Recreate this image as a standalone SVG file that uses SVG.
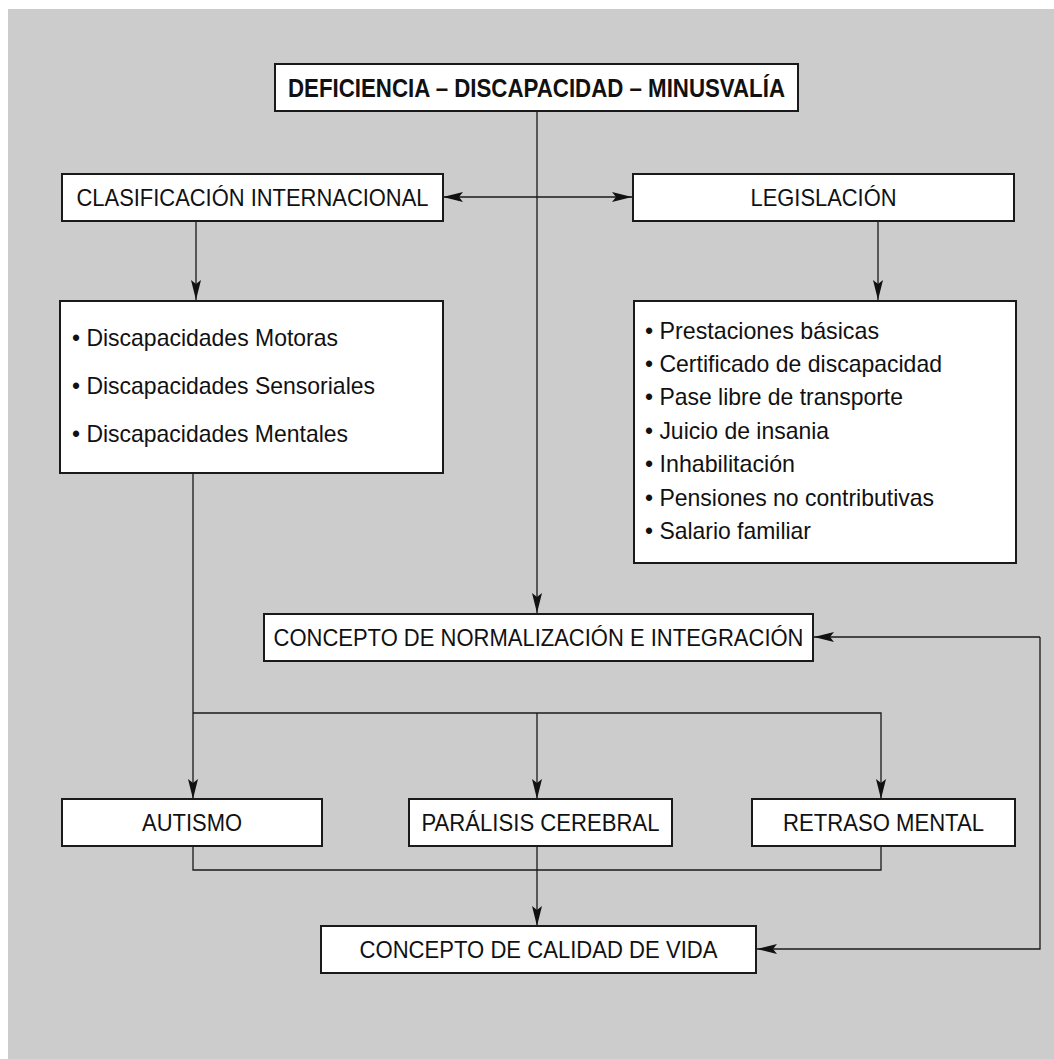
<svg xmlns="http://www.w3.org/2000/svg" width="1054" height="1059" viewBox="0 0 1054 1059">
<style>
.box{fill:#ffffff;stroke:#1a1a1a;stroke-width:2}
.lbl{font-family:"Liberation Sans",Arial,sans-serif;font-size:24px;fill:#111;text-anchor:middle}
.ttl{font-family:"Liberation Sans",Arial,sans-serif;font-size:25px;font-weight:bold;fill:#111;text-anchor:middle}
.itm{font-family:"Liberation Sans",Arial,sans-serif;font-size:24px;fill:#111}
.ln{fill:none;stroke:#1a1a1a;stroke-width:1.3}
</style>
<defs>
<marker id="ah" viewBox="0 0 20 10" refX="20" refY="5" markerWidth="20" markerHeight="10" markerUnits="userSpaceOnUse" orient="auto-start-reverse">
<path d="M0,0 L20,5 L0,10 L4,5 Z" fill="#111"/>
</marker>
</defs>
<rect x="8" y="9" width="1046" height="1050" fill="#cccccc"/>
<g id="connectors">
<path class="ln" d="M537,111 V613" marker-end="url(#ah)"/>
<path class="ln" d="M443,197 H632" marker-start="url(#ah)" marker-end="url(#ah)"/>
<path class="ln" d="M196,221 V300" marker-end="url(#ah)"/>
<path class="ln" d="M878,221 V300" marker-end="url(#ah)"/>
<path class="ln" d="M193,473 V799" marker-end="url(#ah)"/>
<path class="ln" d="M193,713 H881 V799" marker-end="url(#ah)"/>
<path class="ln" d="M537,713 V799" marker-end="url(#ah)"/>
<path class="ln" d="M193,846 V870 H881 V846"/>
<path class="ln" d="M537,846 V926" marker-end="url(#ah)"/>
<path class="ln" d="M1040,637 V949 H757" marker-end="url(#ah)"/>
<path class="ln" d="M1040,637 H814" marker-end="url(#ah)"/>
</g>
<g id="n-top">
<rect class="box" x="275" y="64" width="523" height="47"/>
<text class="ttl" x="536.5" y="96.5" textLength="497" lengthAdjust="spacingAndGlyphs">DEFICIENCIA – DISCAPACIDAD – MINUSVALÍA</text>
</g>
<g id="n-clasif">
<rect class="box" x="62" y="174" width="381" height="47"/>
<text class="lbl" x="252.5" y="206" textLength="352" lengthAdjust="spacingAndGlyphs">CLASIFICACIÓN INTERNACIONAL</text>
</g>
<g id="n-legis">
<rect class="box" x="633" y="174" width="381" height="47"/>
<text class="lbl" x="823.5" y="206" textLength="146" lengthAdjust="spacingAndGlyphs">LEGISLACIÓN</text>
</g>
<g id="n-discap">
<rect class="box" x="60" y="301" width="383" height="172"/>
<text class="itm" x="72" y="346" textLength="266" lengthAdjust="spacingAndGlyphs">• Discapacidades Motoras</text>
<text class="itm" x="72" y="394" textLength="303" lengthAdjust="spacingAndGlyphs">• Discapacidades Sensoriales</text>
<text class="itm" x="72" y="442" textLength="276" lengthAdjust="spacingAndGlyphs">• Discapacidades Mentales</text>
</g>
<g id="n-legislist">
<rect class="box" x="634" y="301" width="382" height="262"/>
<text class="itm" x="645" y="338.5" textLength="234" lengthAdjust="spacingAndGlyphs">• Prestaciones básicas</text>
<text class="itm" x="645" y="372" textLength="297" lengthAdjust="spacingAndGlyphs">• Certificado de discapacidad</text>
<text class="itm" x="645" y="405.3" textLength="258" lengthAdjust="spacingAndGlyphs">• Pase libre de transporte</text>
<text class="itm" x="645" y="438.7" textLength="184" lengthAdjust="spacingAndGlyphs">• Juicio de insania</text>
<text class="itm" x="645" y="472.1" textLength="150" lengthAdjust="spacingAndGlyphs">• Inhabilitación</text>
<text class="itm" x="645" y="505.5" textLength="289" lengthAdjust="spacingAndGlyphs">• Pensiones no contributivas</text>
<text class="itm" x="645" y="539" textLength="166" lengthAdjust="spacingAndGlyphs">• Salario familiar</text>
</g>
<g id="n-normal">
<rect class="box" x="264" y="614" width="549" height="47"/>
<text class="lbl" x="538.5" y="646" textLength="530" lengthAdjust="spacingAndGlyphs">CONCEPTO DE NORMALIZACIÓN E INTEGRACIÓN</text>
</g>
<g id="n-autismo">
<rect class="box" x="62" y="799" width="260" height="47"/>
<text class="lbl" x="192" y="831" textLength="100" lengthAdjust="spacingAndGlyphs">AUTISMO</text>
</g>
<g id="n-paralisis">
<rect class="box" x="409" y="799" width="263" height="47"/>
<text class="lbl" x="540.5" y="831" textLength="238" lengthAdjust="spacingAndGlyphs">PARÁLISIS CEREBRAL</text>
</g>
<g id="n-retraso">
<rect class="box" x="752" y="799" width="263" height="47"/>
<text class="lbl" x="883.5" y="831" textLength="201" lengthAdjust="spacingAndGlyphs">RETRASO MENTAL</text>
</g>
<g id="n-calidad">
<rect class="box" x="321" y="926" width="435" height="47"/>
<text class="lbl" x="538.5" y="958" textLength="358" lengthAdjust="spacingAndGlyphs">CONCEPTO DE CALIDAD DE VIDA</text>
</g>
</svg>
